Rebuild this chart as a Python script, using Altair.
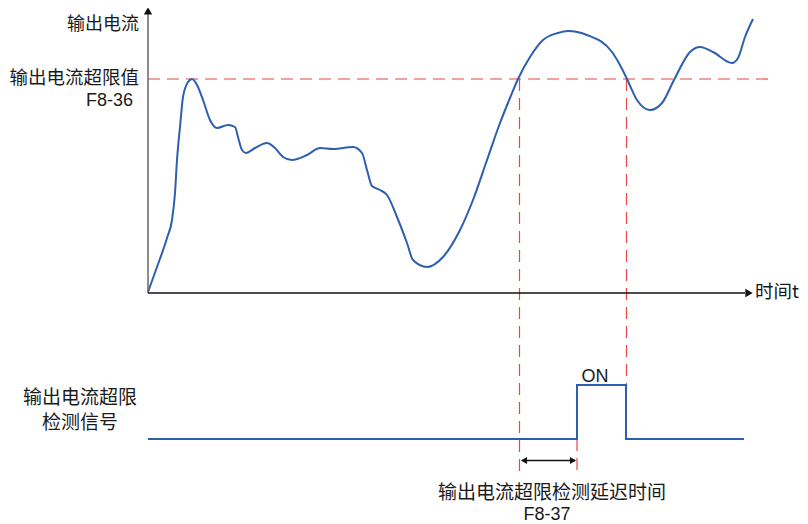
import altair as alt
import pandas as pd

# ---- data (time t, current I) ----
curve_t = [0, 9, 19, 24, 27, 29, 32, 35, 40, 44, 49, 55, 62, 69, 80, 87, 90, 94, 98, 107,
           119, 127, 135, 144, 159, 172, 185, 205, 214, 219, 224, 232, 239, 249, 259, 265,
           279, 295, 312, 325, 339, 352, 362, 370, 382, 395, 410, 420, 439, 464, 472, 479,
           489, 502, 514, 526, 542, 552, 565, 584, 590, 597, 605]
curve_i = [1, 26, 55, 73, 100, 133, 166, 196, 211, 214, 208, 193, 173, 165, 168, 166, 156, 143, 140, 145,
           150, 145, 136, 133, 138, 145, 144, 146, 140, 123, 107, 103, 98, 76, 50, 33,
           26, 36, 63, 93, 133, 170, 195, 214, 236, 253, 260, 262, 258, 241, 228, 214,
           193, 183, 190, 213, 241, 246, 241, 230, 235, 256, 274]

threshold = 214
signal_t = [0, 429, 429, 478, 478, 596]
signal_v = [-146, -146, -92, -92, -146, -146]

# red dashed guide lines (start/end)
guide_t = [0, 371.5, 478.5, 429]
guide_t2 = [620, 371.5, 478.5, 429]
guide_i = [threshold, threshold, threshold, -146]
guide_i2 = [threshold, -182, -92, -182]

labels_right = ["输出电流", "输出电流超限值"]
labels_right_t = [-9, -9]
labels_right_i = [268, 215]

X = alt.Scale(domain=[-140, 652], nice=False, zero=False)
Y = alt.Scale(domain=[-231, 285], nice=False, zero=False)

def xe(f="t"):
    return alt.X(f"{f}:Q", scale=X, axis=None)

def ye(f="i"):
    return alt.Y(f"{f}:Q", scale=Y, axis=None)

BLUE = "#2d5fae"
RED = "#e8474a"
CJK = "Noto Sans CJK SC"
LAT = "Liberation Sans"

curve = alt.Chart(pd.DataFrame({"t": curve_t, "i": curve_i})).mark_line(
    color=BLUE, strokeWidth=2, interpolate="monotone").encode(x=xe(), y=ye())

sig_df = pd.DataFrame({"t": signal_t, "i": signal_v, "k": list(range(len(signal_t)))})
signal = alt.Chart(sig_df).mark_line(color=BLUE, strokeWidth=2).encode(
    x=xe(), y=ye(), order="k:Q")

guides = alt.Chart(pd.DataFrame({"t": guide_t, "t2": guide_t2, "i": guide_i, "i2": guide_i2})).mark_rule(
    color=RED, strokeWidth=1.2, strokeDash=[12, 7]).encode(
    x=xe(), x2="t2:Q", y=ye(), y2="i2:Q")

yaxis = alt.Chart(pd.DataFrame({"t": [0], "t2": [0], "i": [0], "i2": [279]})).mark_rule(
    color="#666666", strokeWidth=1.5).encode(x=xe(), x2="t2:Q", y=ye(), y2="i2:Q")
xaxis = alt.Chart(pd.DataFrame({"t": [0], "t2": [597], "i": [0], "i2": [0]})).mark_rule(
    color="#111111", strokeWidth=1.5).encode(x=xe(), x2="t2:Q", y=ye(), y2="i2:Q")

def head(t, i, shape, size, color="#111111"):
    return alt.Chart(pd.DataFrame({"t": [t], "i": [i]})).mark_point(
        shape=shape, filled=True, size=size, color=color, opacity=1, strokeWidth=0).encode(x=xe(), y=ye())

heads = [
    head(0, 282, "triangle-up", 70),
    head(601, 0, "triangle-right", 70),
    head(376, -167.5, "triangle-left", 50),
    head(425, -167.5, "triangle-right", 50),
]

delay = alt.Chart(pd.DataFrame({"t": [374], "t2": [427], "i": [-167.5], "i2": [-167.5]})).mark_rule(
    color="#111111", strokeWidth=1.5).encode(x=xe(), x2="t2:Q", y=ye(), y2="i2:Q")

def label(text, t, i, align="center", font=CJK, size=18.5, color="#1a1a1a"):
    return alt.Chart(pd.DataFrame({"t": [t], "i": [i], "s": [text]})).mark_text(
        align=align, baseline="middle", font=font, fontSize=size, color=color).encode(
        x=xe(), y=ye(), text="s:N")

texts = [
    label(labels_right[0], labels_right_t[0], labels_right_i[0], align="right", size=18),
    label(labels_right[1], labels_right_t[1], labels_right_i[1], align="right"),
    label("F8-36", -15, 192.5, align="right", font=LAT, size=18),
    label("时间t", 607, 1, align="left"),
    label("输出电流超限", -68, -105, size=19),
    label("检测信号", -68, -130, size=19),
    label("ON", 447, -83.5, font=LAT, size=18),
    label("输出电流超限检测延迟时间", 404, -200, size=19),
    label("F8-37", 399, -221.5, font=LAT, size=18),
]

chart = alt.layer(guides, curve, signal, yaxis, xaxis, delay, *heads, *texts).properties(
    width=792, height=516, padding=0, autosize=alt.AutoSizeParams(type="none")
).configure_view(stroke=None)

chart.save("out.html", embed_options={"renderer": "svg", "actions": False})
